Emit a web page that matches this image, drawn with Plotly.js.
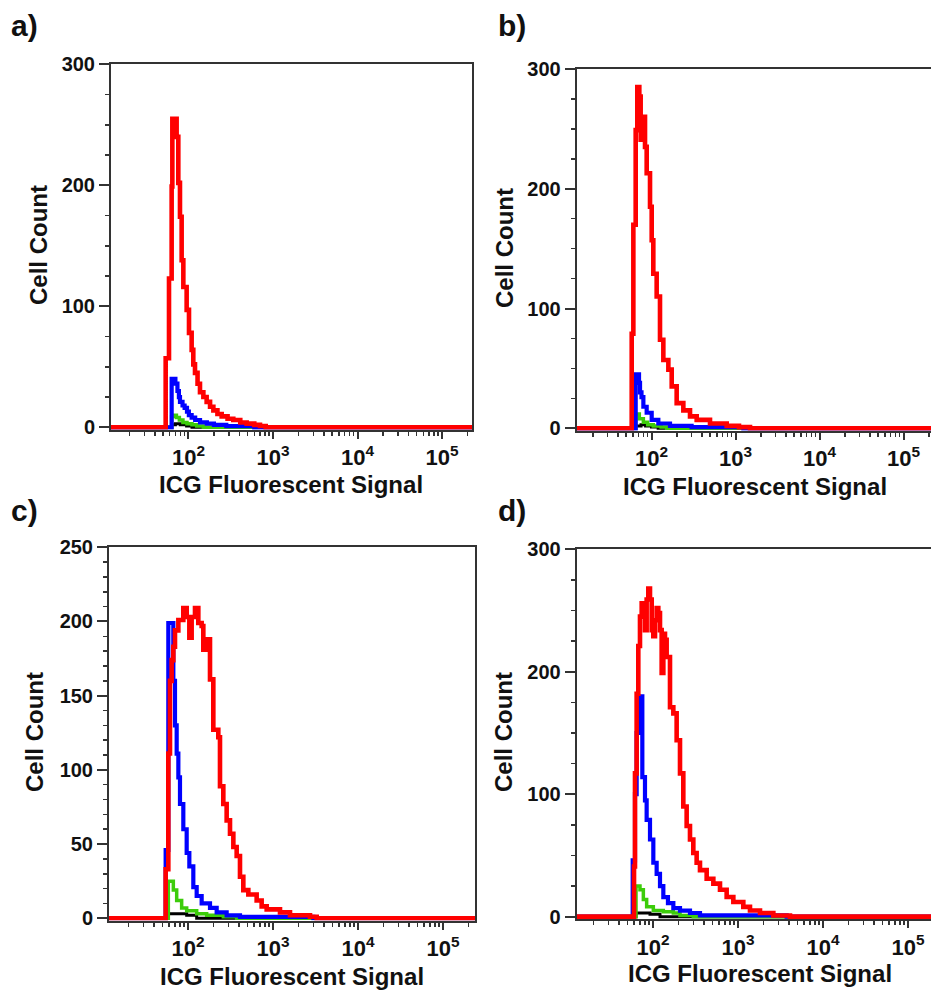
<!DOCTYPE html>
<html>
<head>
<meta charset="utf-8">
<script src="https://cdn.plot.ly/plotly-3.0.1.min.js"></script>
<style>html,body{margin:0;padding:0;background:#fff}#chart{width:931px;height:990px}</style>
</head>
<body>
<div id="chart"></div>
<script>
// ---------- DATA (bin left edge, cell count) ----------
const panelLabels = ["a)", "b)", "c)", "d)"];
const xTitle = "ICG Fluorescent Signal";
const yTitle = "Cell Count";
const xTickVals = [100, 1000, 10000, 100000];
const xTickText = ["10<sup>2</sup>", "10<sup>3</sup>", "10<sup>4</sup>", "10<sup>5</sup>"];

// Panel a
const redA_x = [10, 53.7, 58.8, 63.2, 64.4, 72.4, 75.8, 79.3, 83.0, 86.9, 95.1, 101.4, 109, 114, 119.4, 128, 136.8, 150, 164, 180, 197, 220, 247, 290, 339, 410, 488, 600, 702, 820, 300000];
const redA_y = [0, 57, 123, 199, 255, 240, 202, 174, 138, 116, 97, 78, 64, 52, 45, 36, 29, 25, 21, 17, 14, 11, 9, 7, 6, 4, 3, 2, 1, 0, 0];
const blueA_x = [10, 63.2, 70, 74, 77, 79.3, 85, 90, 96, 101, 109, 120, 137, 165, 200, 280, 600, 300000];
const blueA_y = [0, 40, 36, 30, 25, 21, 18, 16, 13, 10, 8, 6, 4, 3, 2, 1, 0, 0];
const greenA_x = [10, 63.2, 68, 72, 78, 86, 96, 110, 125, 150, 300000];
const greenA_y = [0, 9, 10, 8, 6, 4, 3, 2, 1, 0, 0];
const blackA_x = [10, 63.2, 70, 80, 95, 110, 300000];
const blackA_y = [0, 2, 3, 2, 1, 0, 0];

// Panel b
const redB_x = [10, 58.1, 60.8, 64.8, 67.8, 71.6, 74.3, 77.8, 83.7, 87.6, 96.0, 100.5, 105.1, 115.2, 126.2, 138.3, 158.7, 173.9, 199.3, 239.3, 287.4, 344.9, 497, 785, 1100, 1488, 300000];
const redB_y = [0, 79, 170, 249, 285, 277, 241, 260, 235, 213, 185, 157, 129, 110, 74, 57, 49, 35, 21, 15, 10, 7, 4, 2, 1, 0, 0];
const blueB_x = [10, 64.8, 71, 73, 76, 80, 87.6, 100.5, 120.6, 166, 300, 1240, 300000];
const blueB_y = [0, 45, 38, 30, 26, 18, 13, 7, 4, 2, 1, 0, 0];
const greenB_x = [10, 64.8, 71.6, 80, 90, 105, 130, 151.6, 300000];
const greenB_y = [0, 12, 8, 5, 3, 2, 1, 0, 0];
const blackB_x = [10, 64.8, 75, 85, 100, 120, 300000];
const blackB_y = [0, 2, 3, 2, 1, 0, 0];

// Panel c
const redC_x = [10, 54.6, 58.7, 61.4, 64.2, 67.2, 70.3, 77.0, 88.1, 96.5, 103.7, 110.4, 120.9, 132.3, 144.8, 151.5, 165.8, 181.5, 198.6, 227.4, 237.9, 260.4, 285, 312, 341.6, 373.8, 409, 447.7, 512.7, 642.4, 735.5, 842.4, 1209, 1585, 2725, 3264, 300000];
const redC_y = [0, 33, 111, 160, 174, 183, 194, 201, 209, 203, 189, 203, 209, 199, 197, 181, 188, 161, 127, 122, 89, 77, 66, 57, 48, 42, 28, 19, 16, 12, 8, 6, 4, 2, 1, 0, 0];
const blueC_x = [10, 54.6, 58.7, 67.2, 70.3, 73.6, 77, 80.5, 88.1, 96.5, 103.7, 115.5, 126.5, 144.8, 181.5, 217.5, 285, 409, 1448, 2983, 300000];
const blueC_y = [0, 46, 199, 160, 130, 111, 95, 77, 60, 44, 35, 21, 15, 10, 7, 4, 2, 1, 1, 0, 0];
const greenC_x = [10, 58.7, 67.2, 73.6, 84.2, 96.5, 126.5, 165.8, 260.4, 373.8, 300000];
const greenC_y = [0, 25, 19, 12, 7, 5, 3, 2, 1, 0, 0];
const blackC_x = [10, 58.7, 80, 96.5, 126.5, 300000];
const blackC_y = [0, 3, 3, 2, 0, 0];

// Panel d
const redD_x = [10, 59.8, 61.4, 64.2, 67.2, 70.3, 73.6, 77.0, 80.5, 84.2, 88.1, 92.2, 96.5, 100.9, 105.6, 110.4, 115.5, 120.9, 126.5, 132.3, 138.4, 144.8, 158.5, 173.5, 189.8, 207.8, 227.4, 248.9, 272.4, 298.2, 326.3, 357.2, 428, 512.7, 614.1, 735.5, 881.4, 1155, 1384, 1815, 2605, 4091, 300000];
const redD_y = [0, 41, 117, 182, 221, 245, 256, 248, 234, 259, 268, 259, 234, 229, 242, 252, 248, 234, 199, 231, 226, 212, 171, 166, 144, 117, 90, 74, 63, 52, 44, 38, 31, 27, 22, 16, 12, 8, 5, 3, 1, 0, 0];
const blueD_x = [10, 57.7, 61.4, 64.2, 69.1, 74.9, 80.5, 84.2, 92.2, 100.9, 110.4, 120.9, 132.3, 150, 173.5, 207.8, 272.4, 357.2, 1155, 3736, 300000];
const blueD_y = [0, 46, 100, 150, 180, 114, 95, 79, 63, 44, 35, 25, 16, 11, 7, 5, 3, 1, 1, 0, 0];
const greenD_x = [10, 63.1, 70.3, 77, 84.2, 100.9, 132.3, 173.5, 207.8, 298.2, 300000];
const greenD_y = [0, 25, 22, 14, 8, 5, 4, 3, 1, 0, 0];
const blackD_x = [10, 63.1, 92.2, 120.9, 300000];
const blackD_y = [0, 3, 2, 0, 0];

// ---------- STYLE ----------
const W = 931, H = 990;
const FONT = "Liberation Sans, Arial, Helvetica, sans-serif";
const colors = {black: "#000000", green: "#3ccc0a", blue: "#0000ff", red: "#ff0000"};
const widths = {black: 3, green: 3.5, blue: 4.2, red: 4.6};

const panels = [
  {series: {black: [blackA_x, blackA_y], green: [greenA_x, greenA_y], blue: [blueA_x, blueA_y], red: [redA_x, redA_y]},
   px: [111, 472], py: [64.3, 429.7], xr: [1.083, 5.355], yr: [-2, 300], ydt: 100, ymdt: 25, rightBorder: true},
  {series: {black: [blackB_x, blackB_y], green: [greenB_x, greenB_y], blue: [blueB_x, blueB_y], red: [redB_x, redB_y]},
   px: [576.7, 931], py: [69, 430.7], xr: [1.1095, 5.327], yr: [-2, 300], ydt: 100, ymdt: 25, rightBorder: false},
  {series: {black: [blackC_x, blackC_y], green: [greenC_x, greenC_y], blue: [blueC_x, blueC_y], red: [redC_x, redC_y]},
   px: [109, 475], py: [547.3, 920.5], xr: [1.0706, 5.3765], yr: [-1.5, 250], ydt: 50, ymdt: 10, rightBorder: true},
  {series: {black: [blackD_x, blackD_y], green: [greenD_x, greenD_y], blue: [blueD_x, blueD_y], red: [redD_x, redD_y]},
   px: [576.7, 931], py: [549.3, 919.1], xr: [1.1024, 5.2706], yr: [-2, 300], ydt: 100, ymdt: 25, rightBorder: false}
];

const labelPos = [
  {lab: [9, 26], xt: [291, 484], yt: [38, 245]},
  {lab: [496, 26], xt: [755, 486], yt: [504, 248]},
  {lab: [9, 510], xt: [292, 976], yt: [34, 732]},
  {lab: [496, 510], xt: [760, 973], yt: [503, 732]}
];

const traces = [];
const layout = {
  width: W, height: H,
  margin: {l: 0, r: 0, t: 0, b: 0},
  paper_bgcolor: "#ffffff", plot_bgcolor: "#ffffff",
  showlegend: false,
  font: {family: FONT, color: "#111"},
  annotations: []
};

panels.forEach((p, i) => {
  const n = i + 1;
  const xa = "x" + (n === 1 ? "" : n), ya = "y" + (n === 1 ? "" : n);
  ["black", "green", "blue", "red"].forEach(k => {
    traces.push({
      type: "scatter", mode: "lines",
      x: p.series[k][0], y: p.series[k][1],
      xaxis: xa, yaxis: ya,
      line: {shape: "hv", color: colors[k], width: widths[k]},
      hoverinfo: "skip"
    });
  });
  const xKey = "xaxis" + (n === 1 ? "" : n), yKey = "yaxis" + (n === 1 ? "" : n);
  layout[xKey] = {
    type: "log", range: p.xr, anchor: ya,
    domain: [p.px[0] / W, Math.min(1, p.px[1] / W)],
    showline: true, linecolor: "#333", linewidth: 2, mirror: true,
    showgrid: false, zeroline: false,
    ticks: "outside", ticklen: 7, tickwidth: 2, tickcolor: "#333",
    tickmode: "array", tickvals: xTickVals, ticktext: xTickText,
    ticklabelstandoff: 0,
    tickfont: {family: FONT, size: 22, color: "#111", weight: "bold"},
    minor: {ticks: "outside", ticklen: 4, tickwidth: 1.5, tickcolor: "#333", dtick: "D1", showgrid: false}
  };
  layout[yKey] = {
    type: "linear", range: p.yr, anchor: xa,
    domain: [1 - p.py[1] / H, 1 - p.py[0] / H],
    showline: true, linecolor: "#333", linewidth: 2, mirror: p.rightBorder,
    showgrid: false, zeroline: false,
    ticks: "outside", ticklen: 10, tickwidth: 2, tickcolor: "#333",
    tick0: 0, dtick: p.ydt,
    tickfont: {family: FONT, size: 20, color: "#111", weight: "bold"},
    minor: {ticks: "outside", ticklen: 4, tickwidth: 1.5, tickcolor: "#333", dtick: p.ymdt, showgrid: false}
  };
  const L = labelPos[i];
  layout.annotations.push(
    {text: panelLabels[i], xref: "paper", yref: "paper", x: L.lab[0] / W, y: 1 - L.lab[1] / H,
     xanchor: "left", yanchor: "middle", showarrow: false,
     font: {family: FONT, size: 30, color: "#111", weight: "bold"}},
    {text: xTitle, xref: "paper", yref: "paper", x: L.xt[0] / W, y: 1 - L.xt[1] / H,
     xanchor: "center", yanchor: "middle", showarrow: false,
     font: {family: FONT, size: 24, color: "#111", weight: "bold"}},
    {text: yTitle, xref: "paper", yref: "paper", x: L.yt[0] / W, y: 1 - L.yt[1] / H,
     xanchor: "center", yanchor: "middle", showarrow: false, textangle: -90,
     font: {family: FONT, size: 24, color: "#111", weight: "bold"}}
  );
});

Plotly.newPlot("chart", traces, layout, {staticPlot: true, displayModeBar: false});
</script>
</body>
</html>
